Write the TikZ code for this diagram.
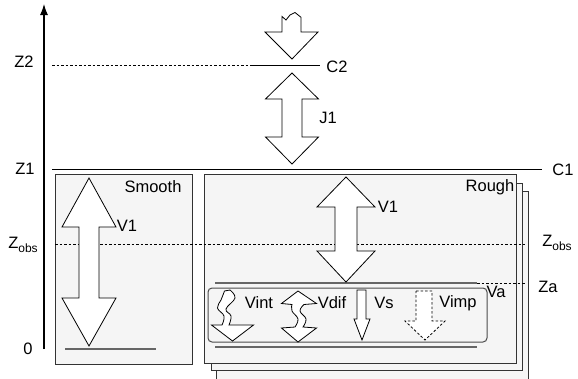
\documentclass[tikz,border=0pt]{standalone}
\usepackage{fontspec}
\setmainfont{Liberation Sans}
\usetikzlibrary{arrows.meta}
\newcommand{\subobs}{\raisebox{-4.5pt}{\fontsize{12}{13}\selectfont obs}}
\tikzset{
  lbl/.style={inner sep=0pt, font=\fontsize{16.5}{19}\selectfont},
  blk/.style={draw=black, fill=white, line width=0.8pt, line join=miter},
  layer/.style={draw=black!80, fill=black!4, line width=0.8pt},
  guide/.style={line width=0.8pt},
  dotguide/.style={line width=0.7pt, dash pattern=on 2.5pt off 2pt},
  grayline/.style={draw=black!60, line width=1.4pt},
}
\begin{document}
\begin{tikzpicture}[x=1pt,y=-1pt]
\useasboundingbox (0,0) rectangle (578,378);

% stacked layers of the rough surface
\draw[layer] (216,191) rectangle (528,385);
\draw[layer] (211,183) rectangle (522,370);
\draw[layer] (204,174) rectangle (516,363);
% smooth surface
\draw[layer] (55,174) rectangle (192,364);

% vertical axis
\draw[line width=1.1pt, -{Latex[length=11pt,width=8pt]}] (44,349) -- (44,4);

% levels
\draw[dotguide] (52,65) -- (252,65);
\draw[guide] (252,65) -- (320,65);
\draw[guide] (52,169) -- (542,169);
\draw[dotguide] (55,244) -- (525,244);
\draw[grayline] (215,283) -- (477,283);
\draw[dotguide] (477,283) -- (525,283);
\draw[grayline] (215,347) -- (477,347);
\draw[grayline, line width=1.1pt] (65,349) -- (156,349);

% canopy box
\draw[draw=black!70, line width=1pt, rounded corners=4pt] (208,288) rectangle (487,342);

% incoming arrow from above
\draw[blk] (282,16.5) -- (286,20) -- (290,15) -- (295,12.5) -- (301,17.3)
  -- (301,32) -- (318,32) -- (292,59) -- (265,32) -- (282,32) -- cycle;

% J1 exchange
\draw[blk] (292,73) -- (318.5,99) -- (302,99) -- (302,137) -- (318.5,137)
  -- (292,164) -- (265.5,137) -- (282,137) -- (282,99) -- (265.5,99) -- cycle;

% V1 over the smooth surface
\draw[blk] (89,178) -- (116,227) -- (99,227) -- (99,298) -- (116,298)
  -- (89,346) -- (62,298) -- (79,298) -- (79,227) -- (62,227) -- cycle;

% V1 over the rough surface
\draw[blk] (346,177) -- (375,207) -- (357,207) -- (357,251) -- (375,251)
  -- (346,282) -- (317,251) -- (335,251) -- (335,207) -- (317,207) -- cycle;

% Vint: wavy shaft, straight head
\draw[blk] plot[smooth, tension=0.7] coordinates
    {(224.5,291) (221,300) (217.5,308) (224,316) (222,325)}
  -- (211.5,325) -- (232.5,341) -- (253.5,325) -- (229,325)
  -- plot[smooth, tension=0.7] coordinates
    {(229,325) (231,316) (226,309) (235,298) (230,290)}
  -- cycle;

% Vdif: wavy shaft with two heads
\draw[blk] (298,291) -- (316.5,303.5) -- (304,304.5)
  -- plot[smooth, tension=0.7] coordinates
    {(304,304.5) (300,311) (306,319) (303,327)}
  -- (316.5,328) -- (298,342) -- (281.5,328) -- (295,327)
  -- plot[smooth, tension=0.7] coordinates
    {(295,327) (298,319) (292,311) (292,304.5)}
  -- (281.5,303.5) -- cycle;

% Vs
\draw[blk] (357,290) -- (366,290) -- (366,319) -- (370,319) -- (362,340)
  -- (354,319) -- (357,319) -- cycle;

% Vimp
\draw[blk, dash pattern=on 2.5pt off 2pt] (416,291) -- (432,291) -- (432,321) -- (445,321)
  -- (425,340) -- (405,321) -- (416,321) -- cycle;

% labels
\node[lbl] (z2) at (24,62) {Z2};
\node[lbl] (z1) at (25,169) {Z1};
\node[lbl] (zobsl) at (23,245) {Z\subobs};
\node[lbl] (zero) at (28,349) {0};
\node[lbl] (c2) at (337,67) {C2};
\node[lbl] (j1) at (328,118) {J1};
\node[lbl] (c1) at (563,170) {C1};
\node[lbl] (smooth) at (153,187) {Smooth};
\node[lbl] (v1s) at (127,226) {V1};
\node[lbl] (rough) at (490,187) {Rough};
\node[lbl] (v1r) at (388,207) {V1};
\node[lbl] (zobsr) at (557,243) {Z\subobs};
\node[lbl] (za) at (548,287) {Za};
\node[lbl] (va) at (496,292) {Va};
\node[lbl] (vint) at (259,303) {Vint};
\node[lbl] (vdif) at (332,303) {Vdif};
\node[lbl] (vs) at (384,303) {Vs};
\node[lbl] (vimp) at (458,303) {Vimp};
\end{tikzpicture}
\end{document}
